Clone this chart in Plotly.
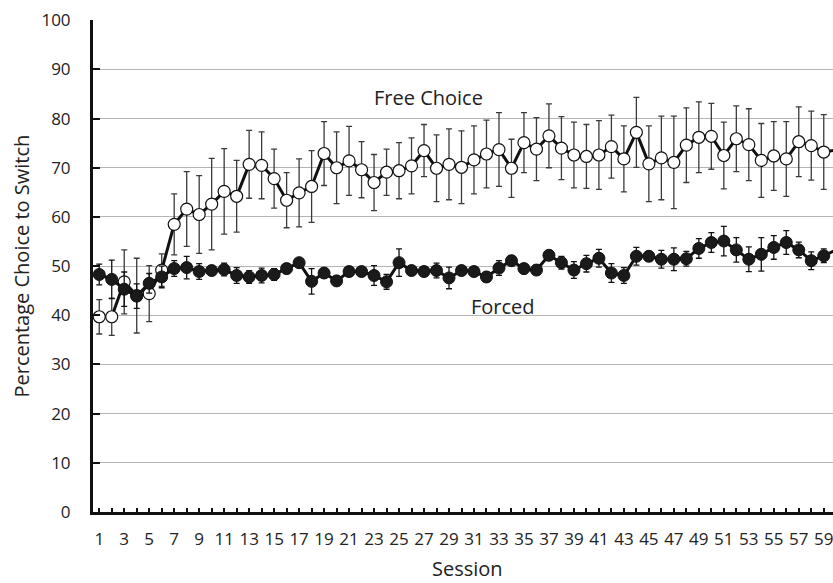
import plotly.graph_objects as go

sessions = list(range(1, 61))

free_choice = [39.7, 39.7, 46.8, 44.0, 44.4, 49.2, 58.5, 61.6, 60.5, 62.6,
               65.2, 64.2, 70.7, 70.5, 67.8, 63.4, 64.9, 66.2, 72.9, 70.0,
               71.4, 69.6, 67.0, 69.1, 69.4, 70.4, 73.5, 69.9, 70.7, 70.1,
               71.6, 72.8, 73.7, 69.9, 75.1, 73.8, 76.5, 74.0, 72.6, 72.3,
               72.6, 74.3, 71.8, 77.2, 70.8, 72.0, 71.1, 74.6, 76.2, 76.4,
               72.5, 75.9, 74.7, 71.5, 72.4, 71.8, 75.3, 74.5, 73.2, 73.6]
free_err = [3.5, 3.8, 6.5, 7.6, 5.7, 3.3, 6.2, 7.6, 7.9, 9.3,
            8.7, 7.3, 6.9, 6.8, 6.0, 5.6, 6.9, 7.3, 6.5, 7.3,
            7.0, 5.7, 5.7, 4.7, 5.7, 5.7, 5.3, 6.8, 7.2, 7.4,
            6.9, 6.9, 7.5, 5.9, 6.1, 6.4, 6.5, 6.4, 6.7, 6.5,
            7.0, 6.4, 6.7, 7.1, 7.7, 8.5, 9.4, 7.6, 7.2, 6.7,
            6.8, 6.7, 7.3, 7.5, 7.0, 7.6, 7.1, 7.0, 7.6, 7.0]

forced = [48.3, 47.3, 45.3, 43.9, 46.5, 47.8, 49.5, 49.7, 48.9, 49.1,
          49.3, 48.1, 47.8, 48.1, 48.3, 49.5, 50.7, 46.9, 48.6, 47.0,
          48.9, 48.9, 48.1, 46.8, 50.7, 49.1, 48.9, 49.1, 47.6, 49.1,
          48.9, 47.8, 49.6, 51.1, 49.5, 49.2, 52.2, 50.7, 49.2, 50.5,
          51.6, 48.6, 48.1, 52.0, 52.0, 51.4, 51.4, 51.5, 53.6, 54.8,
          55.1, 53.3, 51.4, 52.4, 53.8, 54.8, 53.3, 51.1, 52.1, 53.3]
forced_err = [2.1, 3.9, 3.5, 2.5, 2.0, 2.2, 1.6, 2.3, 1.6, 1.0,
              1.3, 1.6, 1.3, 1.5, 1.2, 1.0, 0.8, 2.6, 1.0, 1.0,
              1.0, 1.0, 2.0, 1.5, 2.8, 1.0, 1.0, 1.5, 2.2, 1.0,
              1.0, 1.0, 1.5, 1.0, 1.0, 1.0, 1.0, 1.3, 1.7, 1.7,
              1.8, 1.9, 1.6, 1.8, 1.0, 1.8, 2.3, 1.5, 2.0, 2.0,
              3.0, 2.5, 2.5, 3.4, 2.4, 2.4, 1.6, 1.8, 1.4, 1.5]

x_tick_text = [str(s) if s % 2 == 1 else "" for s in sessions]
y_ticks = list(range(0, 101, 10))

FONT = "Open Sans"

fig = go.Figure()
fig.add_trace(go.Scatter(
    x=sessions, y=free_choice, mode="lines+markers", name="Free Choice",
    line=dict(color="#111111", width=3),
    marker=dict(symbol="circle", size=12, color="white",
                line=dict(color="#111111", width=1.2)),
    error_y=dict(type="data", array=free_err, visible=True,
                 color="#3a3a3a", thickness=1.3, width=3),
    cliponaxis=False, showlegend=False))
fig.add_trace(go.Scatter(
    x=sessions, y=forced, mode="lines+markers", name="Forced",
    line=dict(color="#111111", width=3),
    marker=dict(symbol="circle", size=12, color="#1a1a1a",
                line=dict(color="#111111", width=1)),
    error_y=dict(type="data", array=forced_err, visible=True,
                 color="#111111", thickness=1.3, width=3),
    cliponaxis=False, showlegend=False))

L, R, T, B = 92.5, 833.0, 20.0, 512.0
PW, PH = R - L, B - T

def px(xp):
    return (xp - L) / PW

def py(yp):
    return (B - yp) / PH

def label(text, xp, yp, angle=0):
    return dict(text=text, x=px(xp), y=py(yp), xref="paper", yref="paper",
                xanchor="center", yanchor="middle", textangle=angle,
                showarrow=False, font=dict(family=FONT, size=20, color="#222222"))

fig.update_layout(
    width=833, height=583,
    margin=dict(l=L, r=0, t=T, b=583 - B, autoexpand=False),
    paper_bgcolor="white", plot_bgcolor="white",
    font=dict(family=FONT, color="#222222", size=17),
    xaxis=dict(range=[0.5, 0.5 + PW / 12.5], tickmode="array",
               tickvals=sessions, ticktext=x_tick_text,
               ticks="inside", ticklen=4, tickwidth=1.5, tickcolor="#111111",
               showline=True, linecolor="#111111", linewidth=3,
               showgrid=False, zeroline=False, ticklabeloverflow="allow",
               tickfont=dict(family=FONT, size=17, color="#222222"),
               ticklabelstandoff=10),
    yaxis=dict(range=[0, 100.05], tickmode="array", tickvals=y_ticks,
               ticks="inside", ticklen=7, tickwidth=2, tickcolor="#111111",
               showline=True, linecolor="#111111", linewidth=3,
               showgrid=True, gridcolor="#b4b4b4", gridwidth=1,
               zeroline=False,
               tickfont=dict(family=FONT, size=17, color="#222222"),
               ticklabelstandoff=16),
    annotations=[
        label("Free Choice", 428, 97),
        label("Forced", 502.5, 306),
        label("Session", 467, 568),
        label("Percentage Choice to Switch", 20, 266, -90),
    ],
)

fig.write_html(
    "out.html",
    config={"displayModeBar": False},
    post_script="document.body.style.margin='0';"
                "document.body.style.padding='0';"
                "document.body.style.overflow='hidden';"
                "document.documentElement.style.overflow='hidden';",
)
